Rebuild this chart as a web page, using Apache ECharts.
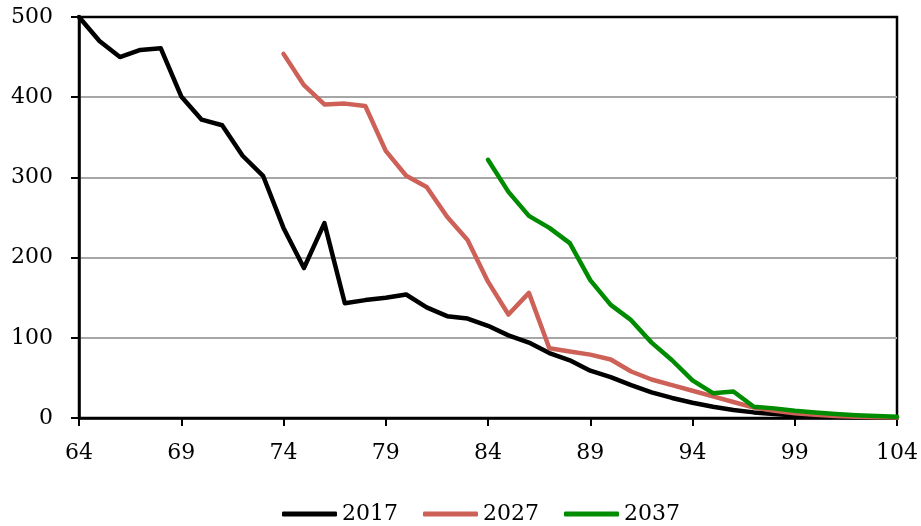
<!DOCTYPE html>
<html>
<head>
<meta charset="utf-8">
<script src="https://cdn.jsdelivr.net/npm/echarts@6/dist/echarts.min.js"></script>
<style>
  html, body { margin: 0; padding: 0; background: #fff; }
  #chart { width: 921px; height: 526px; }
</style>
</head>
<body>
<div id="chart"></div>
<script>
// Ages on the horizontal axis
const ages = [64, 65, 66, 67, 68, 69, 70, 71, 72, 73, 74, 75, 76, 77, 78, 79, 80, 81, 82, 83, 84,
  85, 86, 87, 88, 89, 90, 91, 92, 93, 94, 95, 96, 97, 98, 99, 100, 101, 102, 103, 104];

// 2017: ages 64..104
const start2017 = 64;
const values2017 = [500, 470, 450, 459, 461, 401, 372, 365, 327, 302, 237, 187, 243, 143, 147, 150,
  154, 138, 127, 124, 115, 103, 94, 81, 72, 59, 51, 41, 32, 25, 19, 14, 10, 7, 5, 3, 2, 1.5, 1, 0.5, 0.3];

// 2027: ages 74..104
const start2027 = 74;
const values2027 = [454, 415, 391, 392, 389, 333, 302, 288, 251, 222, 170, 129, 156, 87, 83, 79, 73,
  58, 48, 41, 34, 27, 20, 13, 9, 6, 4, 2.5, 1.5, 1, 0.5];

// 2037: ages 84..104
const start2037 = 84;
const values2037 = [322, 282, 252, 237, 218, 172, 141, 122, 94, 72, 47, 31, 33, 14, 12, 9, 7, 5, 3.5, 2.5, 1.5];

const yTicks = { min: 0, max: 500, interval: 100 };

function alignToAges(start, vals) {
  return ages.map(a => {
    const i = a - start;
    return (i >= 0 && i < vals.length) ? vals[i] : null;
  });
}

const FONT = 'DejaVu Serif';
const chart = echarts.init(document.getElementById('chart'), null, { renderer: 'canvas' });

function lineSeries(name, color, data) {
  return {
    name: name,
    type: 'line',
    data: data,
    symbol: 'none',
    showSymbol: false,
    connectNulls: false,
    animation: false,
    lineStyle: { color: color, width: 4.5, join: 'round', cap: 'round' },
    itemStyle: { color: color }
  };
}

chart.setOption({
  animation: false,
  backgroundColor: '#fff',
  grid: {
    left: 79, right: 24, top: 17, bottom: 108,
    show: true, borderColor: '#000', borderWidth: 2.5, backgroundColor: 'transparent'
  },
  legend: {
    top: 498,
    left: 277,
    icon: 'roundRect',
    itemWidth: 55,
    itemHeight: 5,
    itemGap: 25,
    textStyle: { fontFamily: FONT, fontSize: 22, color: '#000' },
    data: ['2017', '2027', '2037']
  },
  xAxis: {
    type: 'category',
    data: ages,
    boundaryGap: false,
    axisLine: { show: true, lineStyle: { color: '#000', width: 2.5 } },
    axisTick: { show: true, interval: 4, length: 8, lineStyle: { color: '#000', width: 2 } },
    axisLabel: { interval: 4, margin: 24, fontFamily: FONT, fontSize: 22, color: '#000' },
    splitLine: { show: false }
  },
  yAxis: {
    type: 'value',
    min: yTicks.min, max: yTicks.max, interval: yTicks.interval,
    axisLine: { show: true, lineStyle: { color: '#000', width: 2.5 } },
    axisTick: { show: true, length: 8, lineStyle: { color: '#000', width: 2 } },
    axisLabel: { margin: 26, fontFamily: FONT, fontSize: 22, color: '#000' },
    splitLine: { show: true, showMaxLine: false, showMinLine: false, lineStyle: { color: '#a6a6a6', width: 2 } }
  },
  series: [
    lineSeries('2017', '#000000', alignToAges(start2017, values2017)),
    lineSeries('2027', '#cd6158', alignToAges(start2027, values2027)),
    lineSeries('2037', '#008c00', alignToAges(start2037, values2037))
  ]
});
</script>
</body>
</html>
